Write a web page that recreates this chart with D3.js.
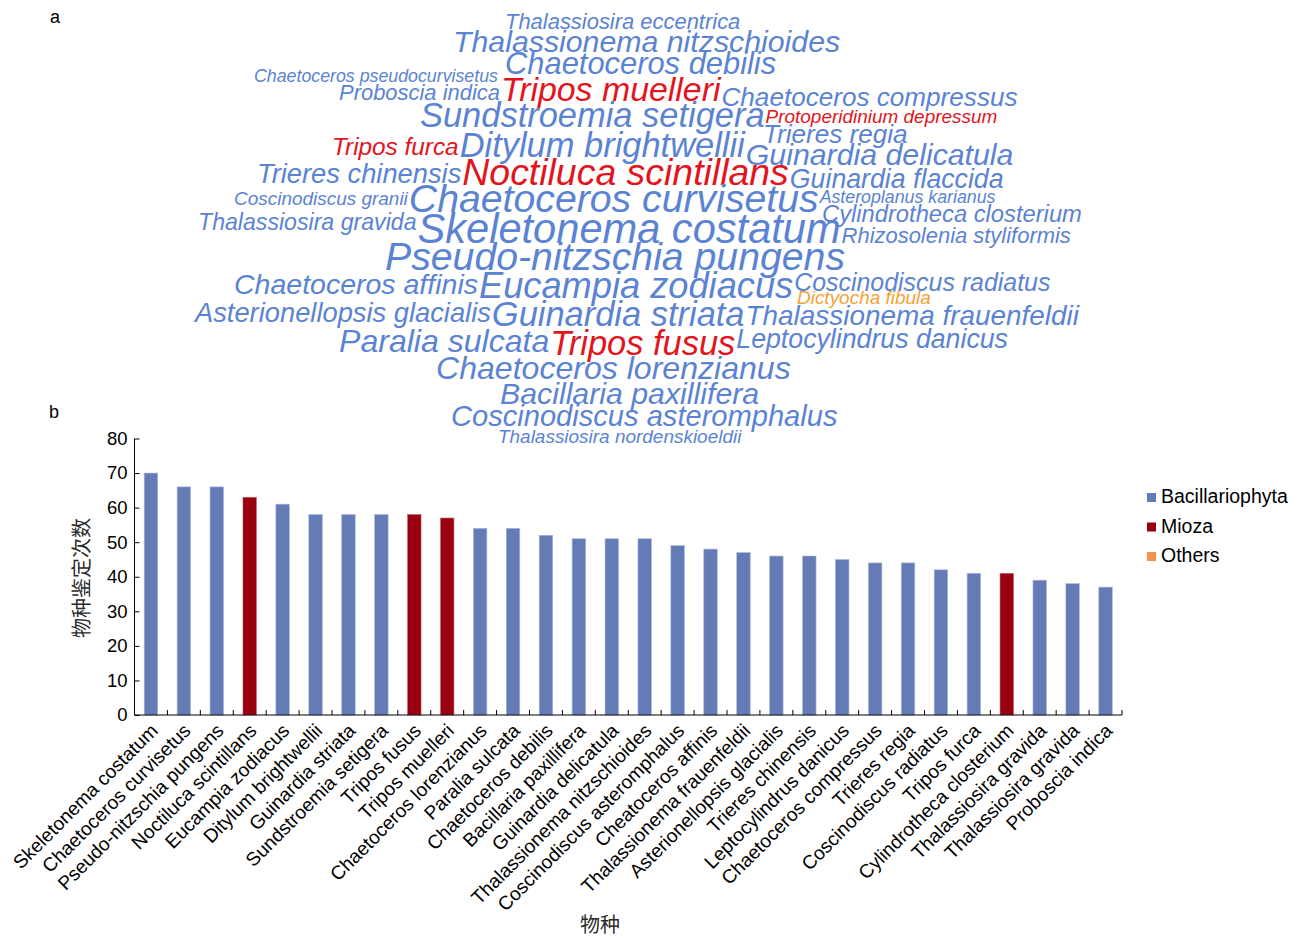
<!DOCTYPE html>
<html>
<head>
<meta charset="utf-8">
<script src="https://cdn.jsdelivr.net/npm/d3@7"></script>
<style>
  html, body { margin: 0; padding: 0; background: #fff; }
  svg { display: block; }
  text { font-family: "Liberation Sans", Arial, sans-serif; }
</style>
</head>
<body>
<svg id="chart" width="1302" height="939"></svg>
<script>
// ---- bar chart data (panel b) ----
const categories = [
  "Skeletonema costatum", "Chaetoceros curvisetus", "Pseudo-nitzschia pungens",
  "Noctiluca scintillans", "Eucampia zodiacus", "Ditylum brightwellii",
  "Guinardia striata", "Sundstroemia setigera", "Tripos fusus", "Tripos muelleri",
  "Chaetoceros lorenzianus", "Paralia sulcata", "Chaetoceros debilis",
  "Bacillaria paxillifera", "Guinardia delicatula", "Thalassionema nitzschioides",
  "Coscinodiscus asteromphalus", "Cheatoceros affinis", "Thalassionema frauenfeldii",
  "Asterionellopsis glacialis", "Trieres chinensis", "Leptocylindrus danicus",
  "Chaetoceros compressus", "Trieres regia", "Coscinodiscus radiatus", "Tripos furca",
  "Cylindrotheca closterium", "Thalassiosira gravida", "Thalassiosira gravida",
  "Proboscia indica"
];
const counts = [70, 66, 66, 63, 61, 58, 58, 58, 58, 57, 54, 54, 52, 51, 51, 51, 49, 48, 47, 46,
                46, 45, 44, 44, 42, 41, 41, 39, 38, 37];
const barGroups = ["B", "B", "B", "M", "B", "B", "B", "B", "M", "M", "B", "B", "B", "B", "B",
                   "B", "B", "B", "B", "B", "B", "B", "B", "B", "B", "B", "M", "B", "B", "B"];
const groupKeys = ["B", "M", "O"];
const groupNames = ["Bacillariophyta", "Mioza", "Others"];
const yTicks = [0, 10, 20, 30, 40, 50, 60, 70, 80];

// ---- word cloud data (panel a) ----
const cloudWords = [
  "Thalassiosira eccentrica", "Thalassionema nitzschioides", "Chaetoceros debilis",
  "Chaetoceros pseudocurvisetus", "Proboscia indica", "Tripos muelleri",
  "Chaetoceros compressus", "Sundstroemia setigera", "Protoperidinium depressum",
  "Trieres regia", "Tripos furca", "Ditylum brightwellii", "Guinardia delicatula",
  "Trieres chinensis", "Noctiluca scintillans", "Guinardia flaccida",
  "Coscinodiscus granii", "Chaetoceros curvisetus", "Asteroplanus karianus",
  "Cylindrotheca closterium", "Thalassiosira gravida", "Skeletonema costatum",
  "Rhizosolenia styliformis", "Pseudo-nitzschia pungens", "Chaetoceros affinis",
  "Eucampia zodiacus", "Coscinodiscus radiatus", "Dictyocha fibula",
  "Asterionellopsis glacialis", "Guinardia striata", "Thalassionema frauenfeldii",
  "Paralia sulcata", "Tripos fusus", "Leptocylindrus danicus",
  "Chaetoceros lorenzianus", "Bacillaria paxillifera", "Coscinodiscus asteromphalus",
  "Thalassiosira nordenskioeldii"
];
const cloudCounts = [37, 51, 52, 30, 37, 57, 44, 58, 32, 44, 41, 58, 51, 46, 63, 45, 32, 66, 30,
                     40, 39, 70, 37, 66, 48, 61, 42, 32, 46, 58, 47, 54, 58, 45, 54, 51, 49, 32];
const cloudGroups = ["B", "B", "B", "B", "B", "M", "B", "B", "M", "B", "M", "B", "B", "B", "M",
                     "B", "B", "B", "B", "B", "B", "B", "B", "B", "B", "B", "B", "O", "B", "B",
                     "B", "B", "M", "B", "B", "B", "B", "B"];

// Cloud placement: each entry is [word index, start x or null (= follow previous word), baseline]
const cloudLayout = [
  [0, 505, 28.5],
  [1, 453, 52],
  [2, 505, 74],
  [3, 254, 81.7],
  [4, 339, 100], [5, null, 101], [6, null, 106],
  [7, 420, 127], [8, null, 122.7],
  [9, 763, 142.7],
  [10, 332, 155], [11, null, 156.7], [12, null, 165],
  [13, 257, 182.7], [14, null, 185], [15, null, 188.3],
  [16, 234, 205], [17, null, 212], [18, null, 203.3],
  [19, 822, 221.7],
  [20, 198, 230], [21, null, 243.3], [22, null, 242.7],
  [23, 385, 270],
  [24, 234, 294], [25, null, 298], [26, null, 290.7],
  [27, 797, 304],
  [28, 195, 321.7], [29, null, 326], [30, null, 325],
  [31, 339, 351.7], [32, null, 355], [33, null, 348.3],
  [34, 436, 379.3],
  [35, 500, 404],
  [36, 451, 426],
  [37, 498, 443.3]
];

const barColor = { B: "#657bb6", M: "#990010", O: "#f6934a" };
const cloudColor = { B: "#5b83d3", M: "#e3141c", O: "#f5a233" };

const svg = d3.select("#chart");

// ---------- panel a: word cloud ----------
svg.append("text").attr("x", 50).attr("y", 23).attr("font-size", 18).text("a");

const fontScale = d3.scaleLinear().domain([37, 70]).range([21.95, 41.6]);
const cloud = svg.append("g").attr("class", "cloud");
let cursor = 0;
cloudLayout.forEach(([i, x, y]) => {
  const t = cloud.append("text")
    .attr("font-style", "italic")
    .attr("font-size", fontScale(cloudCounts[i]).toFixed(2))
    .attr("fill", cloudColor[cloudGroups[i]])
    .attr("y", y)
    .text(cloudWords[i]);
  const startX = x === null ? cursor + 1 : x;
  t.attr("x", startX);
  cursor = startX + t.node().getComputedTextLength();
});

// ---------- panel b: bar chart ----------
svg.append("text").attr("x", 49).attr("y", 418).attr("font-size", 18).text("b");

const plot = { left: 134.5, right: 1122, top: 438.5, bottom: 715 };

const x = d3.scaleBand()
  .domain(d3.range(categories.length))
  .range([plot.left, plot.right])
  .paddingInner(0.59)
  .paddingOuter(0.295);

const y = d3.scaleLinear().domain([0, 80]).range([plot.bottom, plot.top]);

svg.append("g").selectAll("rect")
  .data(counts)
  .join("rect")
  .attr("x", (d, i) => x(i))
  .attr("y", d => y(d))
  .attr("width", x.bandwidth())
  .attr("height", d => y(0) - y(d))
  .attr("fill", (d, i) => barColor[barGroups[i]])
  .attr("stroke", (d, i) => barGroups[i] === "B" ? "#a9b6dd" : "#c46a72")
  .attr("stroke-width", 0.6);

// y axis with inward ticks
const yAxis = svg.append("g")
  .attr("transform", `translate(${plot.left},0)`)
  .call(d3.axisLeft(y).tickValues(yTicks).tickSize(-5).tickPadding(7));
yAxis.selectAll("text").attr("font-size", 18.5).attr("fill", "#000")
  .attr("font-family", "'Liberation Sans', Arial, sans-serif");
yAxis.selectAll("line, path").attr("stroke", "#000");
yAxis.select(".domain").attr("d", `M0,${plot.bottom}V${plot.top}h-0`);

// x axis: baseline plus inward ticks at band boundaries
const step = x.step();
const boundaries = d3.range(categories.length + 1).map(i => plot.left + i * step);
const xAxis = svg.append("g");
xAxis.append("line")
  .attr("x1", plot.left).attr("x2", plot.right)
  .attr("y1", plot.bottom).attr("y2", plot.bottom)
  .attr("stroke", "#000");
xAxis.selectAll("line.tick")
  .data(boundaries.slice(1))
  .join("line")
  .attr("class", "tick")
  .attr("x1", d => d).attr("x2", d => d)
  .attr("y1", plot.bottom).attr("y2", plot.bottom - 5)
  .attr("stroke", "#000");

// rotated category labels
svg.append("g").selectAll("text")
  .data(categories)
  .join("text")
  .attr("text-anchor", "end")
  .attr("font-size", 19.2)
  .attr("transform", (d, i) =>
    `translate(${x(i) + x.bandwidth() / 2 + 8},${plot.bottom + 17}) rotate(-45)`)
  .text(d => d);

// axis titles
svg.append("text")
  .attr("transform", `translate(89,578) rotate(-90)`)
  .attr("text-anchor", "middle")
  .attr("font-size", 20)
  .attr("fill", "#2a2a2a")
  .style("font-family", "'Noto Sans CJK SC', sans-serif")
  .text("物种鉴定次数");

svg.append("text")
  .attr("x", 600).attr("y", 932)
  .attr("text-anchor", "middle")
  .attr("font-size", 20)
  .attr("fill", "#2a2a2a")
  .style("font-family", "'Noto Sans CJK SC', sans-serif")
  .text("物种");

// legend
const legend = svg.append("g").attr("transform", "translate(1147,503)");
const legendRows = legend.selectAll("g")
  .data(groupKeys)
  .join("g")
  .attr("transform", (d, i) => `translate(0,${i * 29.5})`);
legendRows.append("rect")
  .attr("x", 0).attr("y", -10).attr("width", 9).attr("height", 9)
  .attr("fill", d => barColor[d]);
legendRows.append("text")
  .attr("x", 14).attr("y", 0)
  .attr("font-size", 19.5)
  .text((d, i) => groupNames[i]);
</script>
</body>
</html>
